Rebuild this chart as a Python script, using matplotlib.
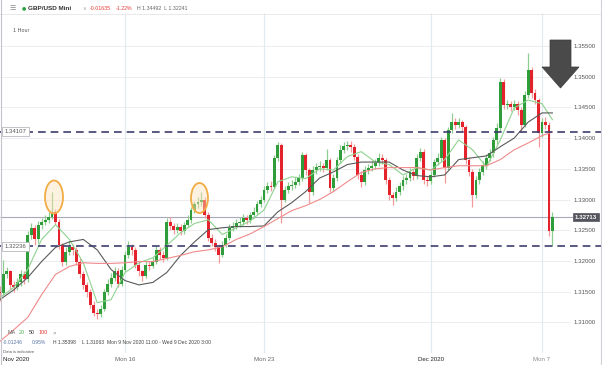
import numpy as np
import matplotlib
matplotlib.use("Agg")
import matplotlib.pyplot as plt
from matplotlib.patches import Ellipse, Polygon

plt.rcParams['font.family'] = ['Liberation Sans', 'DejaVu Sans']

W, H = 602, 365

# ---------------- data (GBP/USD, 3-hour candles from Mon 9 Nov 12:00) ----------------
# prices written as pips above 1.3000
first_open_pips = 150
close_pips = [148,178,183,161,157,165,178,170,243,254,
              235,259,264,267,272,279,264,226,199,215,
              222,218,199,178,161,150,129,116,113,121,
              150,163,173,183,163,186,210,222,218,194,
              183,176,194,192,199,218,210,205,264,257,
              251,256,248,259,267,283,292,296,300,275,
              238,230,223,210,226,238,254,257,261,264,
              270,267,274,280,292,300,316,322,321,368,
              389,300,316,322,324,329,335,373,348,313,
              348,353,355,352,365,319,335,365,381,387,
              389,386,370,340,329,348,352,355,360,368,
              365,332,308,303,313,322,332,335,345,339,
              368,378,332,330,340,361,368,397,352,413,
              426,422,426,418,365,345,308,332,345,357,
              368,376,397,417,492,454,456,451,456,446,
              422,470,511,474,462,409,426,422,248,272]
high_pips = [160,202,190,186,168,172,185,184,248,262,
             258,265,270,274,280,312,285,268,230,222,
             232,228,222,204,184,166,154,134,122,128,
             155,170,180,190,188,192,216,232,228,222,
             198,186,200,200,206,224,222,216,270,272,
             262,262,260,264,274,288,298,304,312,304,
             280,244,236,228,232,244,260,264,268,272,
             276,275,280,288,298,306,322,328,330,372,
             394,392,322,328,332,336,342,378,376,352,
             354,360,362,360,383,368,342,370,388,394,
             396,395,390,374,346,354,358,362,366,376,
             374,368,336,312,320,328,338,342,352,350,
             374,384,382,338,346,366,376,402,400,418,
             441,432,432,430,422,370,350,338,352,362,
             374,382,402,424,498,496,462,460,462,460,
             450,476,539,515,480,466,432,434,426,280]
low_pips = [135,145,172,155,150,152,160,163,166,236,
            226,230,252,258,262,268,258,220,192,194,
            210,210,194,172,155,142,124,110,106,108,
            118,145,158,168,158,160,182,205,210,188,
            176,168,172,185,188,195,203,198,202,250,
            244,246,242,244,255,262,278,286,290,270,
            232,224,216,197,206,222,234,248,252,255,
            258,260,262,270,276,288,296,310,314,318,
            362,262,296,310,316,318,324,330,340,295,
            308,342,346,345,348,312,314,330,360,376,
            380,378,364,334,320,324,342,346,350,354,
            358,326,300,291,298,308,316,326,330,332,
            334,362,326,322,325,336,356,362,327,348,
            408,415,416,410,358,338,288,302,326,340,
            350,362,370,390,410,448,448,444,445,438,
            410,418,465,466,455,386,402,415,240,224]

# moving averages read every 4th candle (+ last candle), pips above 1.3000
ma_index = list(range(0, 160, 4)) + [159]
ma20_pips = [140,157,186,235,259,235,197,132,137,181,197,205,225,246,261,267,243,254,265,283,
             329,337,334,350,348,370,378,361,357,340,352,348,365,397,381,353,397,449,462,456,430]
ma50_pips = [137,153,173,199,222,231,235,218,186,168,161,165,181,209,231,251,254,256,256,257,
             280,295,313,335,345,357,361,361,361,348,339,337,340,365,368,371,386,400,426,441,441]
ma100_pips = [69,88,108,145,178,191,197,196,196,197,199,199,204,209,215,218,223,235,244,256,
              269,282,290,300,313,329,344,350,352,352,352,348,352,355,355,355,365,381,392,404,410]

level_upper = 1.34107
level_lower = 1.32236
last_price = 1.32713
price_ticks = [1.310, 1.315, 1.320, 1.325, 1.330, 1.335, 1.340, 1.345, 1.350, 1.355]
time_ticks = [26.3, 120, 240, 384, 480]          # trading hours since Mon 9 Nov 00:00
time_labels = ["Nov 2020", "Mon 16", "Mon 23", "Dec 2020", "Mon 7"]
time_label_colors = ["#222222", "#666666", "#666666", "#222222", "#8a8a8a"]

# ---------------- derived ----------------
base = 1.3
close = base + np.array(close_pips) / 1e4
high = base + np.array(high_pips) / 1e4
low = base + np.array(low_pips) / 1e4
opens = np.r_[base + first_open_pips / 1e4, close[:-1]]
hours = 12 + 3 * np.arange(len(close))
high = np.maximum(high, np.maximum(opens, close))
low = np.minimum(low, np.minimum(opens, close))

fig = plt.figure(figsize=(W / 100, H / 100), dpi=100)
fig.patch.set_facecolor("white")

ax_top, ax_bot = 13, 353
ax = fig.add_axes([0, (H - ax_bot) / H, 1, (ax_bot - ax_top) / H])
XL = (12.087, 531.8)
YL = (1.30501, 1.36037)
ax.set_xlim(*XL)
ax.set_ylim(*YL)
for s in ax.spines.values():
    s.set_visible(False)
ax.set_facecolor("none")

def px2h(x):
    return XL[0] + x / W * (XL[1] - XL[0])

def py2p(y):
    return YL[1] - (y - ax_top) / (ax_bot - ax_top) * (YL[1] - YL[0])

# grid
ax.hlines(price_ticks, px2h(0), px2h(570), colors="#ececf1", lw=0.7, zorder=0)
ax.vlines(time_ticks[1:], YL[0], YL[1], colors="#e1eaee", lw=0.8, zorder=0)

# current price line
ax.hlines(last_price, px2h(0), px2h(573), colors="#a9a9bb", lw=0.8, zorder=1)

# candles
up = close >= opens
body_col = np.where(up, "#2f9e3a", "#e3222b")
wick_col = np.where(up, "#8fcc8f", "#f29a9a")
ax.vlines(hours, low, high, colors=wick_col, lw=0.9, zorder=2)
body_h = np.maximum(np.abs(close - opens), 0.00008)
ax.bar(hours, body_h, bottom=np.minimum(opens, close), width=2.5,
       color=body_col, linewidth=0, zorder=3)

# moving averages
mh = hours[ma_index]
ax.plot(mh, base + np.array(ma20_pips) / 1e4, color="#8fd38f", lw=0.8, zorder=4)
ax.plot(mh, base + np.array(ma50_pips) / 1e4, color="#5a5a5a", lw=0.8, zorder=4)
ax.plot(mh, base + np.array(ma100_pips) / 1e4, color="#f08a8a", lw=0.8, zorder=4)

# dashed levels
for lv in (level_upper, level_lower):
    ax.plot([px2h(0), px2h(602)], [lv, lv], color="#3d3d6e", lw=1.2,
            linestyle=(0, (4.6, 3.0)), zorder=5)
    ax.text(px2h(4.5), lv, f"{lv:.5f}", fontsize=4.3, color="#555555", va="center",
            ha="left", zorder=6,
            bbox=dict(boxstyle="square,pad=0.4", fc="white", ec="#b8b8c0", lw=0.6))

# last price tag
ax.text(px2h(575), last_price, f"{last_price:.5f}", fontsize=4.4, color="white",
        va="center", ha="left", zorder=6, fontweight="bold",
        bbox=dict(boxstyle="square,pad=0.3", fc="#55555e", ec="#55555e", lw=0.5))

# highlight circles
ax.add_patch(Ellipse((px2h(54), py2p(197)), px2h(18) - px2h(0), py2p(0) - py2p(33),
                     fc=(0.99, 0.88, 0.72, 0.45), ec="#f2ac45", lw=1.3, zorder=7))
ax.add_patch(Ellipse((px2h(199.5), py2p(198)), px2h(17) - px2h(0), py2p(0) - py2p(30),
                     fc=(0.99, 0.88, 0.72, 0.45), ec="#f2ac45", lw=1.3, zorder=7))

# big arrow
arrow_px = [(550, 40), (571, 40), (571, 67), (579, 67), (560.5, 88), (542, 67), (550, 67)]
ax.add_patch(Polygon([(px2h(x), py2p(y)) for x, y in arrow_px], closed=True,
                     fc="#4a4a4a", ec="#3a3a3a", lw=0.5, zorder=8))

# axes ticks
ax.yaxis.tick_right()
ax.set_yticks(price_ticks)
ax.set_yticklabels([f"{p:.5f}" for p in price_ticks])
ax.tick_params(axis="y", length=0, pad=-28 * 0.72, labelsize=4.4, labelcolor="#555555")
ax.set_xticks(time_ticks)
ax.set_xticklabels(time_labels)
ax.tick_params(axis="x", length=0, pad=2.8, labelsize=4.4)
for lbl, c in zip(ax.get_xticklabels(), time_label_colors):
    lbl.set_color(c)

# ---------------- header / footer texts ----------------
def fx(x):
    return x / W

def fy(y):
    return 1 - y / H

fig.text(fx(9), fy(8), "☰", fontsize=5, color="#888888", va="center",
         family=['DejaVu Sans'])
fig.text(fx(22), fy(8), "●", fontsize=3.6, color="#2ea043", va="center",
         family=['DejaVu Sans'])
fig.text(fx(28), fy(8), "GBP/USD Mini", fontsize=4.6, color="#333333", va="center",
         fontweight="bold")
fig.text(fx(82), fy(8), "∨", fontsize=3.6, color="#999999", va="center",
         family=['DejaVu Sans'])
fig.text(fx(90), fy(8), "-0.01635", fontsize=3.8, color="#e53935", va="center")
fig.text(fx(116), fy(8), "-1.22%", fontsize=3.8, color="#e53935", va="center")
fig.text(fx(137), fy(8), "H 1.34492  L 1.32241", fontsize=3.8, color="#666666", va="center")
fig.text(fx(13), fy(30), "1 Hour", fontsize=3.9, color="#555555", va="center")

fig.text(fx(8), fy(333), "MA", fontsize=3.9, color="#666666", va="center")
fig.text(fx(18.5), fy(333), "20", fontsize=3.9, color="#4caf50", va="center")
fig.text(fx(29), fy(333), "50", fontsize=3.9, color="#333333", va="center")
fig.text(fx(39), fy(333), "100", fontsize=3.9, color="#e53935", va="center")
fig.text(fx(52.5), fy(333), "×", fontsize=4.4, color="#888888", va="center")
fig.text(fx(3), fy(343), "-0.01246", fontsize=3.6, color="#5a77a8", va="center")
fig.text(fx(32), fy(343), "0.95%", fontsize=3.6, color="#5a77a8", va="center")
fig.text(fx(53), fy(343), "H 1.35398", fontsize=3.6, color="#444444", va="center")
fig.text(fx(82), fy(343), "L 1.31063", fontsize=3.6, color="#444444", va="center")
fig.text(fx(107), fy(343), "Mon 9 Nov 2020 11:00 - Wed 9 Dec 2020 3:00", fontsize=3.6,
         color="#444444", va="center")
fig.text(fx(3), fy(352), "Data is indicative", fontsize=3.0, color="#555555", va="center")

# frame lines
fig.add_artist(plt.Line2D([0, 1], [fy(13.5), fy(13.5)], color="#e4e4ea", lw=0.6))
fig.add_artist(plt.Line2D([fx(0.5), fx(0.5)], [0, 1], color="#c4c4cc", lw=0.8))
fig.add_artist(plt.Line2D([fx(600.5), fx(600.5)], [0, 1], color="#d0d0d8", lw=0.8))

fig.savefig("out.png", dpi=100, facecolor="white")
